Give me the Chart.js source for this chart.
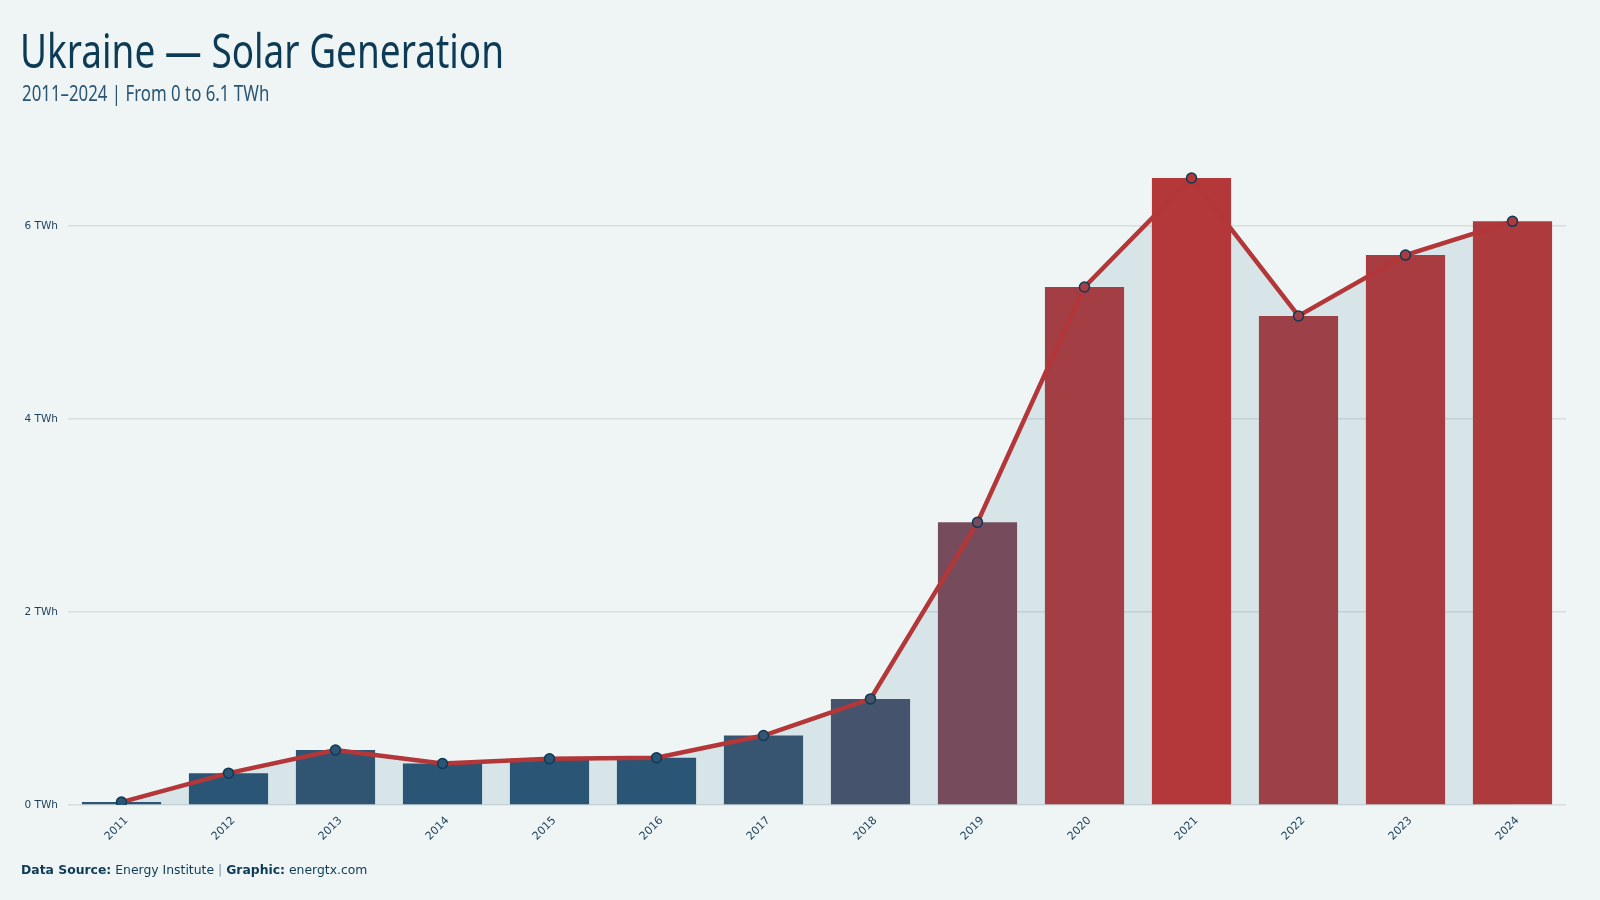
<!DOCTYPE html>
<html>
<head>
<meta charset="utf-8">
<title>Ukraine — Solar Generation</title>
<script src="https://cdn.jsdelivr.net/npm/chart.js@4.4.1/dist/chart.umd.min.js"></script>
<style>
    html, body {
        margin: 0;
        padding: 0;
        background: #eff5f5;
    }
    .page {
        position: relative;
        width: 1600px;
        height: 900px;
        overflow: hidden;
        background: #eff5f5;
    }
    .title {
        position: absolute;
        left: 20px;
        top: 17px;
        font-family: "Noto Sans", "Open Sans", sans-serif;
        font-size: 48px;
        color: #0d3b55;
        white-space: nowrap;
        transform: scaleX(0.77);
        transform-origin: left top;
    }
    .subtitle {
        position: absolute;
        left: 22px;
        top: 77px;
        font-family: "Noto Sans", "Open Sans", sans-serif;
        font-size: 22px;
        color: #2a5574;
        white-space: nowrap;
        transform: scaleX(0.765);
        transform-origin: left top;
    }
    .footer {
        position: absolute;
        left: 21px;
        top: 862px;
        font-family: "DejaVu Sans", sans-serif;
        font-size: 12.4px;
        color: #0d3b55;
        white-space: nowrap;
    }
    .footer b { font-weight: bold; }
    .footer .sep { color: #7d98a8; }
    .chart-box {
        position: absolute;
        left: 0;
        top: 0;
        width: 1600px;
        height: 900px;
    }
</style>
</head>
<body>
<div class="page">
    <div class="chart-box"><canvas id="chart"></canvas></div>
    <div class="title">Ukraine — Solar Generation</div>
    <div class="subtitle">2011–2024 | From 0 to 6.1 TWh</div>
    <div class="footer"><b>Data Source:</b> Energy Institute <span class="sep">|</span> <b>Graphic:</b> energtx.com</div>
</div>
<script>
    // solar generation, TWh
    const years = ['2011', '2012', '2013', '2014', '2015', '2016', '2017', '2018', '2019', '2020', '2021', '2022', '2023', '2024'];
    const generation = [0.03, 0.33, 0.57, 0.43, 0.48, 0.49, 0.72, 1.10, 2.93, 5.37, 6.50, 5.07, 5.70, 6.05];
    const yTicks = [0, 2, 4, 6];

    const low = [42, 85, 116];   // navy
    const high = [180, 55, 57];  // red
    const maxVal = Math.max(...generation);
    const floorVal = 0.5;

    // bar colour goes from navy to red with the value
    const colorFor = (v) => {
        const t = Math.pow(Math.max(0, (v - floorVal) / (maxVal - floorVal)), 0.75);
        const c = low.map((l, i) => Math.round(l + (high[i] - l) * t + 6 * Math.sin(Math.PI * t)));
        return `rgb(${c[0]}, ${c[1]}, ${c[2]})`;
    };
    const barColors = generation.map(colorFor);

    const ctx = document.getElementById('chart').getContext('2d');
    new Chart(ctx, {
        type: 'bar',
        data: {
            labels: years,
            datasets: [
                {
                    type: 'line',
                    label: 'Trend',
                    data: generation,
                    borderColor: '#b33638',
                    borderWidth: 4.5,
                    backgroundColor: 'rgba(79, 132, 158, 0.15)',
                    fill: 'origin',
                    tension: 0,
                    pointRadius: 5,
                    pointBorderWidth: 1.5,
                    pointBorderColor: '#0e3a55',
                    pointBackgroundColor: barColors,
                    order: 0
                },
                {
                    label: 'Solar',
                    data: generation,
                    backgroundColor: barColors,
                    barPercentage: 0.74,
                    categoryPercentage: 1,
                    order: 1
                }
            ]
        },
        options: {
            responsive: true,
            maintainAspectRatio: false,
            animation: false,
            events: [],
            layout: {
                padding: { left: 0, right: 34, top: 149, bottom: 45 }
            },
            plugins: {
                legend: { display: false },
                tooltip: { enabled: false },
                filler: { drawTime: 'beforeDatasetsDraw' }
            },
            scales: {
                x: {
                    offset: true,
                    grid: { display: false, drawTicks: false },
                    border: { display: false },
                    afterFit: (scale) => { scale.height = 50; },
                    ticks: {
                        minRotation: 45,
                        maxRotation: 45,
                        padding: 9,
                        labelOffset: 5,
                        color: '#1b3f5a',
                        font: { family: 'DejaVu Sans', size: 11 }
                    }
                },
                y: {
                    min: 0,
                    max: 6.8,
                    afterBuildTicks: (scale) => {
                        scale.ticks = yTicks.map(v => ({ value: v }));
                    },
                    afterFit: (scale) => { scale.width = 68; },
                    grid: {
                        color: '#d6dede',
                        lineWidth: 1.5,
                        drawTicks: false
                    },
                    border: { display: false },
                    ticks: {
                        padding: 10,
                        color: '#1b3f5a',
                        font: { family: 'DejaVu Sans', size: 10.5 },
                        callback: (v) => v + ' TWh'
                    }
                }
            }
        }
    });
</script>
</body>
</html>
